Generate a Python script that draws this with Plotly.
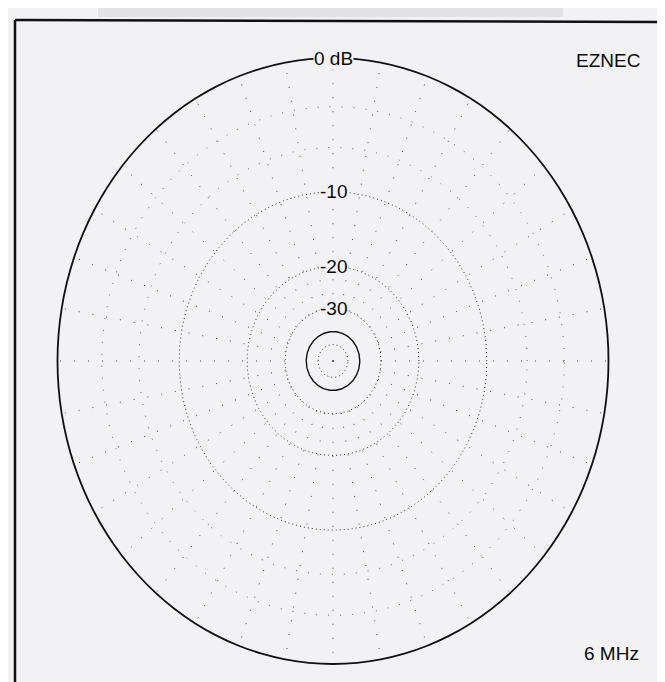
import math
import plotly.graph_objects as go

# ---- data ----
pattern_azimuth_deg = list(range(0, 361, 5))
pattern_gain_db = [0.0] * len(pattern_azimuth_deg)   # omnidirectional pattern at 0 dB

ring_db_dotted = [-10, -20, -30, -50]
ring_db_faint = [-3, -6]
ring_db_solid = [-40]
spoke_angles_deg = list(range(0, 360, 10))
label_db = [0, -10, -20, -30]
label_text = ["0 dB", "-10", "-20", "-30"]
title_left = "EZNEC"
freq_text = "6 MHz"

BG = "#f2f2f4"


def arrl(db):
    # ARRL log scale: radius shrinks by 0.89 for every 2 dB
    return 0.89 ** (-db / 2.0)


def circle_xy(r, n=721):
    xs, ys = [], []
    for i in range(n):
        t = 2 * math.pi * i / (n - 1)
        xs.append(r * math.cos(t))
        ys.append(r * math.sin(t))
    return xs, ys


fig = go.Figure()

# rings
for db in ring_db_faint:
    xs, ys = circle_xy(arrl(db))
    fig.add_trace(go.Scatter(x=xs, y=ys, mode="lines", hoverinfo="skip",
                             line=dict(color="#666", width=1, dash="1px,11px")))
for db in ring_db_dotted:
    xs, ys = circle_xy(arrl(db))
    fig.add_trace(go.Scatter(x=xs, y=ys, mode="lines", hoverinfo="skip",
                             line=dict(color="#333", width=1, dash="1px,3px")))
for db in ring_db_solid:
    xs, ys = circle_xy(arrl(db))
    fig.add_trace(go.Scatter(x=xs, y=ys, mode="lines", hoverinfo="skip",
                             line=dict(color="#111", width=1.4)))

# spokes
sx, sy = [], []
r_in = arrl(-30)
for a in spoke_angles_deg:
    t = math.radians(a)
    sx += [r_in * math.cos(t), math.cos(t), None]
    sy += [r_in * math.sin(t), math.sin(t), None]
fig.add_trace(go.Scatter(x=sx, y=sy, mode="lines", hoverinfo="skip",
                         line=dict(color="#444", width=1, dash="1px,13px")))

# pattern
px = [arrl(g) * math.sin(math.radians(a)) for a, g in zip(pattern_azimuth_deg, pattern_gain_db)]
py = [arrl(g) * math.cos(math.radians(a)) for a, g in zip(pattern_azimuth_deg, pattern_gain_db)]
fig.add_trace(go.Scatter(x=px, y=py, mode="lines", hoverinfo="skip",
                         line=dict(color="#111", width=1.8, shape="spline")))

# centre dot
fig.add_trace(go.Scatter(x=[0], y=[0], mode="markers", hoverinfo="skip",
                         marker=dict(color="#333", size=2)))

FONT = dict(family="Liberation Sans, Arial", size=19, color="#0a0a0a")
for db, txt in zip(label_db, label_text):
    fig.add_annotation(x=0, y=arrl(db), text=txt, showarrow=False,
                       xanchor="center", yanchor="middle", font=FONT,
                       bgcolor=BG, borderpad=0)

fig.add_annotation(x=600 / 665, y=1 - 52 / 682, xref="paper", yref="paper",
                   text=title_left, showarrow=False, xanchor="center", yanchor="middle",
                   font=FONT)
fig.add_annotation(x=603 / 665, y=1 - 645 / 682, xref="paper", yref="paper",
                   text=freq_text, showarrow=False, xanchor="center", yanchor="middle",
                   font=FONT)

# scanned-page band above the frame
fig.add_shape(type="rect", xref="paper", yref="paper", x0=90 / 665, x1=555 / 665,
              y0=1 - 9 / 682, y1=1, line=dict(width=0), fillcolor="#e2e2e6", layer="below")

# frame
fig.add_shape(type="line", xref="paper", yref="paper", x0=7 / 665, x1=7 / 665,
              y0=0, y1=1 - 12 / 682, line=dict(color="#111", width=2.5))
fig.add_shape(type="line", xref="paper", yref="paper", x0=7 / 665, x1=1,
              y0=1 - 12 / 682, y1=1 - 14 / 682, line=dict(color="#111", width=2.5))

cx, cy, rx, ry = 325.0, 353.0, 275.5, 303.0
fig.update_xaxes(range=[-cx / rx, (665 - cx) / rx], visible=False, fixedrange=True)
fig.update_yaxes(range=[-(682 - cy) / ry, cy / ry], visible=False, fixedrange=True)
fig.update_layout(width=665, height=682, margin=dict(l=0, r=0, t=0, b=0),
                  paper_bgcolor=BG, plot_bgcolor=BG, showlegend=False)

fig.write_html("out.html")
